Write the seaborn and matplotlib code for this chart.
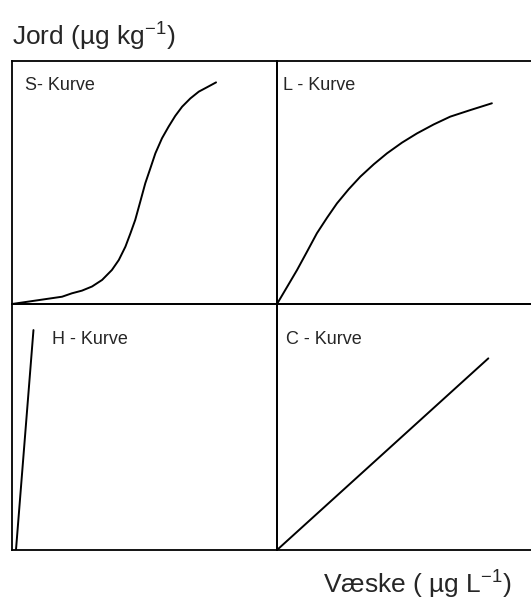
import numpy as np
import pandas as pd
import matplotlib
matplotlib.use("Agg")
import matplotlib.pyplot as plt
import seaborn as sns

# curve shapes, in panel units (0..1 on both axes)
s_x = [0.0, 0.063, 0.126, 0.189, 0.226, 0.264, 0.302, 0.340, 0.377, 0.403,
       0.428, 0.447, 0.465, 0.484, 0.503, 0.522, 0.541, 0.566, 0.591, 0.616,
       0.642, 0.673, 0.705, 0.736, 0.770]
s_y = [0.0, 0.010, 0.020, 0.030, 0.044, 0.055, 0.072, 0.099, 0.140, 0.181,
       0.236, 0.291, 0.346, 0.421, 0.497, 0.558, 0.620, 0.682, 0.730, 0.774,
       0.812, 0.846, 0.874, 0.892, 0.912]

l_x = [0.0, 0.039, 0.079, 0.118, 0.157, 0.197, 0.236, 0.282, 0.328, 0.381,
       0.433, 0.492, 0.551, 0.617, 0.682, 0.761, 0.846]
l_y = [0.0, 0.069, 0.140, 0.215, 0.291, 0.355, 0.414, 0.472, 0.524, 0.575,
       0.620, 0.664, 0.702, 0.739, 0.771, 0.798, 0.826]

h_x = [0.015, 0.081]
h_y = [0.0, 0.894]

c_x = [0.0, 0.832]
c_y = [0.0, 0.779]

titles = ["S- Kurve", "L - Kurve", "H - Kurve", "C - Kurve"]

sns.set_style("white")
plt.rcParams["font.family"] = ["Liberation Sans", "DejaVu Sans"]
plt.rcParams["mathtext.fontset"] = "custom"
plt.rcParams["mathtext.rm"] = "Liberation Sans"

W, H = 531, 603
fig = plt.figure(figsize=(W / 100, H / 100), dpi=100)

def px_axes(x0, y0, x1, y1):
    return fig.add_axes([x0 / W, 1 - y1 / H, (x1 - x0) / W, (y1 - y0) / H])

ax_s = px_axes(12, 61, 277, 304)
ax_l = px_axes(277, 61, 531, 304)
ax_h = px_axes(12, 304, 277, 550)
ax_c = px_axes(277, 304, 531, 550)

panels = [
    (ax_s, s_x, s_y, (0.049, 0.881)),
    (ax_l, l_x, l_y, (0.024, 0.881)),
    (ax_h, h_x, h_y, (0.151, 0.837)),
    (ax_c, c_x, c_y, (0.035, 0.837)),
]

for (ax, xs, ys, tpos), title in zip(panels, titles):
    df = pd.DataFrame({"x": xs, "y": ys})
    sns.lineplot(data=df, x="x", y="y", ax=ax, color="black", lw=1.4, sort=False)
    ax.set_xlim(0, 1)
    ax.set_ylim(0, 1)
    ax.set_xticks([])
    ax.set_yticks([])
    ax.set_xlabel("")
    ax.set_ylabel("")
    ax.patch.set_alpha(0)
    for sp in ax.spines.values():
        sp.set_color("black")
        sp.set_linewidth(1.3)
    ax.text(tpos[0], tpos[1], title, transform=ax.transAxes, fontsize=13,
            va="baseline", ha="left")

for ax in (ax_l, ax_c):
    ax.spines["right"].set_visible(False)

fig.text(12 / W, 1 - 45 / H, r"Jord (µg kg$^{\mathregular{-1}}$)", fontsize=19,
         va="baseline", ha="left")
fig.text(323 / W, 1 - 593 / H, r"Væske ( µg L$^{\mathregular{-1}}$)", fontsize=19,
         va="baseline", ha="left")

fig.savefig("out.png", dpi=100)
